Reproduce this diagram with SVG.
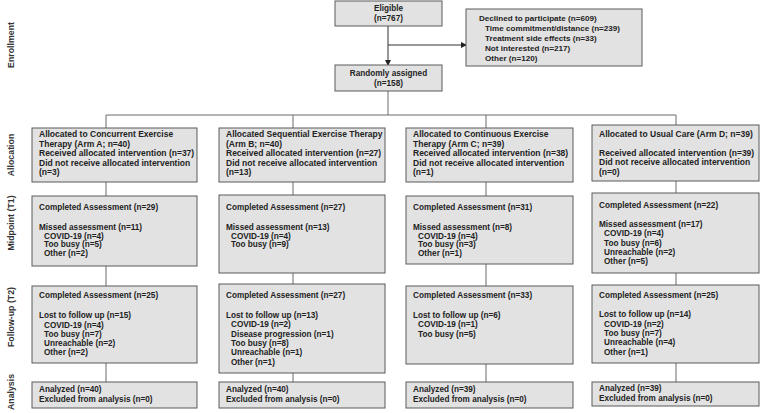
<svg xmlns="http://www.w3.org/2000/svg" width="760" height="413" viewBox="0 0 760 413">
<defs>
<style>
.bx{fill:#e2e2e2;stroke:#5a5a5a;stroke-width:1}
.t{font-family:"Liberation Sans",Arial,sans-serif;font-size:8.2px;font-weight:bold;fill:#222}
.a{font-size:8.5px}
.s{font-size:8.1px}
.c{text-anchor:middle}
.lab{font-family:"Liberation Sans",Arial,sans-serif;font-size:8.8px;font-weight:bold;fill:#333;text-anchor:middle}
.ln{stroke:#6a6a6a;stroke-width:1;fill:none}
</style>
<marker id="ah" markerWidth="6" markerHeight="6" refX="5" refY="3" orient="auto" markerUnits="userSpaceOnUse">
<path d="M0,0 L6,3 L0,6 Z" fill="#222"/>
</marker>
</defs>
<rect width="760" height="413" fill="#fff"/>

<g id="phase-labels">
<text class="lab" transform="translate(14,45) rotate(-90)">Enrollment</text>
<text class="lab" transform="translate(14,155) rotate(-90)">Allocation</text>
<text class="lab" transform="translate(14,223) rotate(-90)">Midpoint (T1)</text>
<text class="lab" transform="translate(14,317) rotate(-90)">Follow-up (T2)</text>
<text class="lab" transform="translate(14,392) rotate(-90)">Analysis</text>
</g>

<g id="connectors">
<line class="ln" x1="388" y1="26" x2="388" y2="65" marker-end="url(#ah)" style="stroke:#333"/>
<line class="ln" x1="388" y1="45" x2="466" y2="45" marker-end="url(#ah)" style="stroke:#333"/>
<line class="ln" x1="388" y1="91" x2="388" y2="115"/>
<line class="ln" x1="106" y1="115" x2="676" y2="115"/>
<line class="ln" x1="106" y1="115" x2="106" y2="128"/>
<line class="ln" x1="293" y1="115" x2="293" y2="128"/>
<line class="ln" x1="486" y1="115" x2="486" y2="128"/>
<line class="ln" x1="676" y1="115" x2="676" y2="125"/>
<line class="ln" x1="106" y1="182" x2="106" y2="196"/>
<line class="ln" x1="293" y1="182" x2="293" y2="195"/>
<line class="ln" x1="486" y1="182" x2="486" y2="196"/>
<line class="ln" x1="676" y1="181" x2="676" y2="193"/>
<line class="ln" x1="106" y1="266" x2="106" y2="286"/>
<line class="ln" x1="293" y1="273" x2="293" y2="284"/>
<line class="ln" x1="486" y1="264" x2="486" y2="286"/>
<line class="ln" x1="676" y1="273" x2="676" y2="285"/>
<line class="ln" x1="106" y1="363" x2="106" y2="382"/>
<line class="ln" x1="293" y1="373" x2="293" y2="382"/>
<line class="ln" x1="486" y1="364" x2="486" y2="382"/>
<line class="ln" x1="676" y1="363" x2="676" y2="382"/>
</g>

<g id="eligible">
<rect class="bx" x="335" y="1" width="107" height="25"/>
<text class="t c" x="388.5" y="11.3">Eligible</text>
<text class="t c" x="388.5" y="21.3">(n=767)</text>
</g>

<g id="declined">
<rect class="bx" x="466" y="9" width="176" height="57"/>
<text class="t s" x="479" y="20.7">Declined to participate (n=609)</text>
<text class="t s" x="485" y="31.3">Time commitment/distance (n=239)</text>
<text class="t s" x="485" y="41.3">Treatment side effects (n=33)</text>
<text class="t s" x="485" y="51.3">Not interested (n=217)</text>
<text class="t s" x="485" y="61.3">Other (n=120)</text>
</g>

<g id="randomized">
<rect class="bx" x="335" y="65" width="107" height="26"/>
<text class="t c" x="388.5" y="76.3">Randomly assigned</text>
<text class="t c" x="388.5" y="86.3">(n=158)</text>
</g>

<g id="alloc-a">
<rect class="bx" x="32" y="128" width="165" height="54"/>
<text class="t a" x="39" y="137.3">Allocated to Concurrent Exercise</text>
<text class="t a" x="39" y="146.8">Therapy (Arm A; n=40)</text>
<text class="t a" x="39" y="156.3">Received allocated intervention (n=37)</text>
<text class="t a" x="39" y="165.8">Did not receive allocated intervention</text>
<text class="t a" x="39" y="175.3">(n=3)</text>
</g>

<g id="alloc-b">
<rect class="bx" x="219" y="128" width="166" height="54"/>
<text class="t a" x="226" y="137.3">Allocated Sequential Exercise Therapy</text>
<text class="t a" x="226" y="146.8">(Arm B; n=40)</text>
<text class="t a" x="226" y="156.3">Received allocated intervention (n=27)</text>
<text class="t a" x="226" y="165.8">Did not receive allocated intervention</text>
<text class="t a" x="226" y="175.3">(n=13)</text>
</g>

<g id="alloc-c">
<rect class="bx" x="406" y="128" width="167" height="54"/>
<text class="t a" x="413" y="137.3">Allocated to Continuous Exercise</text>
<text class="t a" x="413" y="146.8">Therapy (Arm C; n=39)</text>
<text class="t a" x="413" y="156.3">Received allocated intervention (n=38)</text>
<text class="t a" x="413" y="165.8">Did not receive allocated intervention</text>
<text class="t a" x="413" y="175.3">(n=1)</text>
</g>

<g id="alloc-d">
<rect class="bx" x="592" y="125" width="167" height="56"/>
<text class="t a" x="599" y="137">Allocated to Usual Care (Arm D; n=39)</text>
<text class="t a" x="599" y="155.7">Received allocated intervention (n=39)</text>
<text class="t a" x="599" y="165.2">Did not receive allocated intervention</text>
<text class="t a" x="599" y="174.7">(n=0)</text>
</g>

<g id="mid-a">
<rect class="bx" x="32" y="196" width="165" height="70"/>
<text class="t" x="39" y="209.7">Completed Assessment (n=29)</text>
<text class="t" x="39" y="229.7">Missed assessment (n=11)</text>
<text class="t" x="44" y="238.5">COVID-19 (n=4)</text>
<text class="t" x="44" y="247.3">Too busy (n=5)</text>
<text class="t" x="44" y="256.3">Other (n=2)</text>
</g>

<g id="mid-b">
<rect class="bx" x="219" y="195" width="166" height="78"/>
<text class="t" x="226" y="209.7">Completed Assessment (n=27)</text>
<text class="t" x="226" y="229.7">Missed assessment (n=13)</text>
<text class="t" x="231" y="238.5">COVID-19 (n=4)</text>
<text class="t" x="231" y="247.3">Too busy (n=9)</text>
</g>

<g id="mid-c">
<rect class="bx" x="406" y="196" width="167" height="68"/>
<text class="t" x="413" y="209.7">Completed Assessment (n=31)</text>
<text class="t" x="413" y="229.7">Missed assessment (n=8)</text>
<text class="t" x="418" y="238.5">COVID-19 (n=4)</text>
<text class="t" x="418" y="247.3">Too busy (n=3)</text>
<text class="t" x="418" y="256.3">Other (n=1)</text>
</g>

<g id="mid-d">
<rect class="bx" x="592" y="193" width="167" height="80"/>
<text class="t" x="599" y="208">Completed Assessment (n=22)</text>
<text class="t" x="599" y="227">Missed assessment (n=17)</text>
<text class="t" x="604" y="236.3">COVID-19 (n=4)</text>
<text class="t" x="604" y="245.7">Too busy (n=6)</text>
<text class="t" x="604" y="254.7">Unreachable (n=2)</text>
<text class="t" x="604" y="263.7">Other (n=5)</text>
</g>

<g id="fu-a">
<rect class="bx" x="32" y="286" width="165" height="77"/>
<text class="t" x="39" y="298">Completed Assessment (n=25)</text>
<text class="t" x="39" y="318">Lost to follow up (n=15)</text>
<text class="t" x="44" y="328">COVID-19 (n=4)</text>
<text class="t" x="44" y="337">Too busy (n=7)</text>
<text class="t" x="44" y="346.3">Unreachable (n=2)</text>
<text class="t" x="44" y="355.3">Other (n=2)</text>
</g>

<g id="fu-b">
<rect class="bx" x="219" y="284" width="166" height="89"/>
<text class="t" x="226" y="298">Completed Assessment (n=27)</text>
<text class="t" x="226" y="318">Lost to follow up (n=13)</text>
<text class="t" x="231" y="327.3">COVID-19 (n=2)</text>
<text class="t" x="231" y="337">Disease progression (n=1)</text>
<text class="t" x="231" y="346.3">Too busy (n=8)</text>
<text class="t" x="231" y="355.3">Unreachable (n=1)</text>
<text class="t" x="231" y="364.7">Other (n=1)</text>
</g>

<g id="fu-c">
<rect class="bx" x="406" y="286" width="167" height="78"/>
<text class="t" x="413" y="298">Completed Assessment (n=33)</text>
<text class="t" x="413" y="318">Lost to follow up (n=6)</text>
<text class="t" x="418" y="327.3">COVID-19 (n=1)</text>
<text class="t" x="418" y="337">Too busy (n=5)</text>
</g>

<g id="fu-d">
<rect class="bx" x="592" y="285" width="167" height="78"/>
<text class="t" x="599" y="298">Completed Assessment (n=25)</text>
<text class="t" x="599" y="317">Lost to follow up (n=14)</text>
<text class="t" x="604" y="327">COVID-19 (n=2)</text>
<text class="t" x="604" y="335.7">Too busy (n=7)</text>
<text class="t" x="604" y="345.3">Unreachable (n=4)</text>
<text class="t" x="604" y="354.7">Other (n=1)</text>
</g>

<g id="an-a">
<rect class="bx" x="32" y="382" width="165" height="26"/>
<text class="t" x="39" y="392.3">Analyzed (n=40)</text>
<text class="t" x="39" y="402">Excluded from analysis (n=0)</text>
</g>

<g id="an-b">
<rect class="bx" x="219" y="382" width="166" height="26"/>
<text class="t" x="226" y="392.3">Analyzed (n=40)</text>
<text class="t" x="226" y="402">Excluded from analysis (n=0)</text>
</g>

<g id="an-c">
<rect class="bx" x="406" y="382" width="167" height="26"/>
<text class="t" x="413" y="392.3">Analyzed (n=39)</text>
<text class="t" x="413" y="402">Excluded from analysis (n=0)</text>
</g>

<g id="an-d">
<rect class="bx" x="592" y="382" width="167" height="24"/>
<text class="t" x="599" y="391.3">Analyzed (n=39)</text>
<text class="t" x="599" y="401.3">Excluded from analysis (n=0)</text>
</g>
</svg>
